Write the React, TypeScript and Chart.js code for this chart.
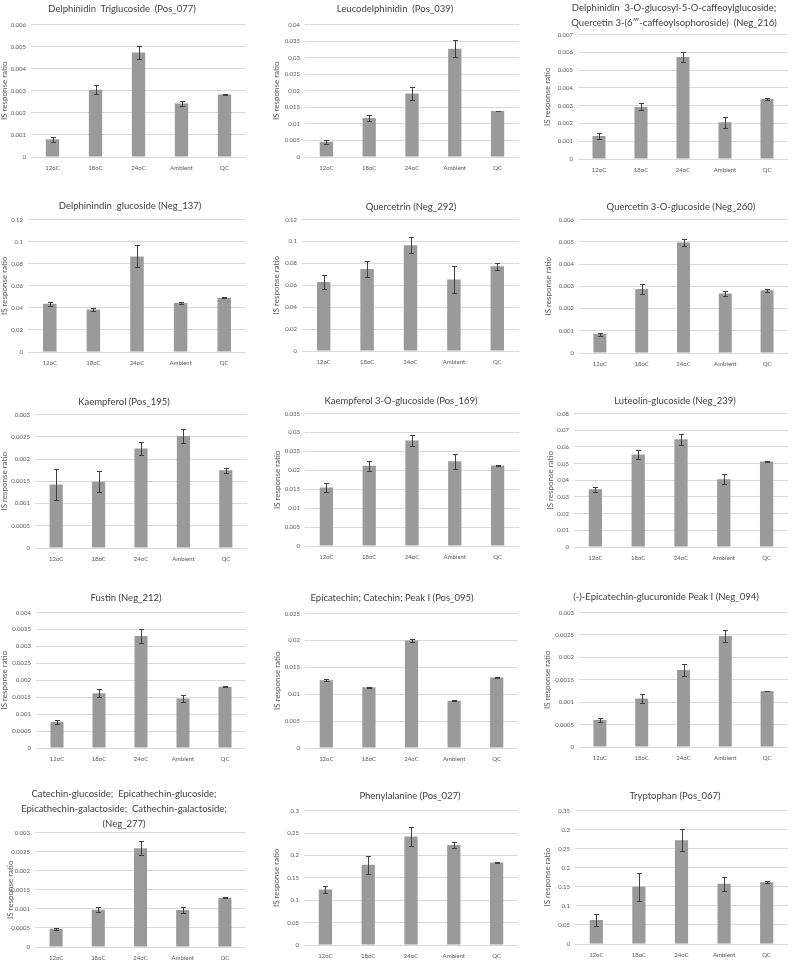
import React, { useEffect, useRef } from 'react';
import { Chart, registerables } from 'chart.js';

Chart.register(...registerables);

// ---------- data ----------
const categories = ['12oC', '18oC', '24oC', 'Ambient', 'QC'];

const titles: string[][] = [
  ['Delphinidin  Triglucoside  (Pos_077)'],
  ['Leucodelphinidin  (Pos_039)'],
  ['Delphinidin  3-O-glucosyl-5-O-caffeoylglucoside;', 'Quercetin 3-(6\u2034-caffeoylsophoroside)  (Neg_216)'],
  ['Delphinindin  glucoside (Neg_137)'],
  ['Quercetrin (Neg_292)'],
  ['Quercetin 3-O-glucoside (Neg_260)'],
  ['Kaempferol (Pos_195)'],
  ['Kaempferol 3-O-glucoside (Pos_169)'],
  ['Luteolin-glucoside (Neg_239)'],
  ['Fustin (Neg_212)'],
  ['Epicatechin; Catechin; Peak I (Pos_095)'],
  ['(-)-Epicatechin-glucuronide Peak I (Neg_094)'],
  ['Catechin-glucoside;  Epicathechin-glucoside;', 'Epicathechin-galactoside;  Cathechin-galactoside;', '(Neg_277)'],
  ['Phenylalanine (Pos_027)'],
  ['Tryptophan (Pos_067)'],
];

const yAxisTitle = 'IS response ratio';

const yMax = [0.006, 0.04, 0.007, 0.12, 0.12, 0.006, 0.003, 0.035, 0.08, 0.004, 0.025, 0.003, 0.003, 0.3, 0.35];
const yStep = [0.001, 0.005, 0.001, 0.02, 0.02, 0.001, 0.0005, 0.005, 0.01, 0.0005, 0.005, 0.0005, 0.0005, 0.05, 0.05];

const means01 = [0.00081, 0.00305, 0.00473, 0.00242, 0.00283];
const errs01 = [0.00011, 0.0002, 0.0003, 0.00013, 0.00002];
const means02 = [0.0046, 0.0118, 0.0192, 0.0327, 0.0139];
const errs02 = [0.0006, 0.0008, 0.002, 0.0026, 0.0001];
const means03 = [0.00129, 0.00293, 0.00574, 0.00207, 0.00338];
const errs03 = [0.00015, 0.0002, 0.0003, 0.0003, 0.00004];
const means04 = [0.0438, 0.0386, 0.0866, 0.0444, 0.0492];
const errs04 = [0.0017, 0.001, 0.01, 0.0007, 0.0006];
const means05 = [0.063, 0.0748, 0.0965, 0.0652, 0.0773];
const errs05 = [0.006, 0.007, 0.0073, 0.012, 0.0035];
const means06 = [0.00085, 0.00288, 0.00497, 0.00268, 0.00282];
const errs06 = [0.00007, 0.00023, 0.00016, 0.00012, 0.00007];
const means07 = [0.00143, 0.00149, 0.00224, 0.00252, 0.00175];
const errs07 = [0.00034, 0.00024, 0.00015, 0.00016, 0.00006];
const means08 = [0.01545, 0.0212, 0.0279, 0.0224, 0.0213];
const errs08 = [0.0012, 0.0013, 0.00135, 0.002, 0.0002];
const means09 = [0.0346, 0.0555, 0.0646, 0.0407, 0.0512];
const errs09 = [0.0015, 0.0028, 0.0032, 0.003, 0.0003];
const means10 = [0.00077, 0.00162, 0.00331, 0.00146, 0.00181];
const errs10 = [0.00005, 0.00011, 0.0002, 0.00011, 0.00002];
const means11 = [0.0126, 0.0113, 0.0200, 0.0088, 0.0131];
const errs11 = [0.0002, 0.0001, 0.0003, 0.0001, 0.00005];
const means12 = [0.0006, 0.00108, 0.00172, 0.00248, 0.00125];
const errs12 = [0.00005, 0.0001, 0.00014, 0.00014, 0.00001];
const means13 = [0.00048, 0.00098, 0.00259, 0.00097, 0.00129];
const errs13 = [0.00003, 0.000065, 0.00019, 0.000087, 0.00001];
const means14 = [0.124, 0.179, 0.242, 0.223, 0.184];
const errs14 = [0.008, 0.02, 0.021, 0.006, 0.002];
const means15 = [0.063, 0.15, 0.272, 0.158, 0.162];
const errs15 = [0.015, 0.037, 0.029, 0.018, 0.002];

const means = [means01, means02, means03, means04, means05, means06, means07, means08, means09, means10, means11, means12, means13, means14, means15];
const errs = [errs01, errs02, errs03, errs04, errs05, errs06, errs07, errs08, errs09, errs10, errs11, errs12, errs13, errs14, errs15];

// ---------- layout (px): canvasLeft, plotLeft, plotRight, plotTop, plotBottom, titleCenterX, titleFirstLineY ----------
const layout: number[][] = [
  [0, 31, 246, 24, 157, 122, 8],
  [272, 305, 519, 24, 157, 395, 8],
  [543, 578, 788, 34, 159, 674, 7],
  [0, 28, 246, 219, 352, 130, 205],
  [272, 302, 519, 219, 351, 411, 206],
  [544, 579, 788, 219, 353, 681, 206],
  [0, 35, 247, 414, 548, 124, 401],
  [273, 305, 519, 413, 546, 401, 400],
  [546, 574, 788, 413, 547, 675, 400],
  [0, 36, 246, 612, 748, 126, 597],
  [273, 305, 518, 613, 748, 392, 597],
  [543, 579, 788, 612, 747, 666, 596],
  [6, 35, 246, 832, 947, 124, 793],
  [272, 304, 518, 810, 945, 410, 795],
  [543, 575, 788, 810, 944, 675, 795],
];

const TOP_PAD = 8;
const X_AXIS_H = 20;
const FONT = 'Lato, "Open Sans", sans-serif';
const TEXT_COLOR = '#595959';
const TITLE_COLOR = '#404040';
const GRID_COLOR = '#d9d9d9';
const BAR_COLOR = '#9a9a9a';
const ERR_COLOR = '#404040';

const errorBarPlugin = {
  id: 'errorBars',
  afterDatasetsDraw(chart: any) {
    const ds = chart.data.datasets[0];
    const meta = chart.getDatasetMeta(0);
    const y = chart.scales.y;
    const ctx = chart.ctx;
    ctx.save();
    ctx.strokeStyle = ERR_COLOR;
    ctx.lineWidth = 1;
    meta.data.forEach((bar: any, i: number) => {
      const v = ds.data[i];
      const e = ds.errors[i];
      const x = Math.round(bar.x) + 0.5;
      const yT = Math.round(y.getPixelForValue(v + e)) + 0.5;
      const yB = Math.round(y.getPixelForValue(v - e)) + 0.5;
      ctx.beginPath();
      ctx.moveTo(x, yT);
      ctx.lineTo(x, yB);
      ctx.moveTo(x - 2.5, yT);
      ctx.lineTo(x + 2.5, yT);
      ctx.moveTo(x - 2.5, yB);
      ctx.lineTo(x + 2.5, yB);
      ctx.stroke();
    });
    ctx.restore();
  },
};

function Panel({ idx }: { idx: number }) {
  const ref = useRef<HTMLCanvasElement>(null);
  const [cl, pl, pr, pt, pb] = layout[idx];
  const w = pr - cl;
  const h = pb - pt + TOP_PAD + X_AXIS_H;

  useEffect(() => {
    const chart = new Chart(ref.current as HTMLCanvasElement, {
      type: 'bar',
      data: {
        labels: categories,
        datasets: [
          {
            data: means[idx],
            errors: errs[idx],
            backgroundColor: BAR_COLOR,
            borderWidth: 0,
            barPercentage: 1,
            categoryPercentage: 0.31,
          } as any,
        ],
      },
      options: {
        animation: false,
        responsive: false,
        maintainAspectRatio: false,
        devicePixelRatio: 1,
        layout: { padding: { top: TOP_PAD, left: 0, right: 0, bottom: 0 } },
        plugins: {
          legend: { display: false },
          tooltip: { enabled: false },
          title: { display: false },
        },
        scales: {
          x: {
            grid: { display: false, drawTicks: false },
            border: { display: false },
            ticks: {
              padding: 7,
              maxRotation: 0,
              autoSkip: false,
              color: TEXT_COLOR,
              font: { family: FONT, size: 6 },
            },
            afterFit: (s: any) => {
              s.height = X_AXIS_H;
            },
          },
          y: {
            min: 0,
            max: yMax[idx],
            border: { display: false },
            grid: { color: GRID_COLOR, drawTicks: false, lineWidth: 1 },
            ticks: {
              stepSize: yStep[idx],
              padding: 5,
              color: TEXT_COLOR,
              font: { family: FONT, size: 6 },
              callback: (v: any) => String(Number(Number(v).toPrecision(6))),
            },
            title: {
              display: true,
              text: yAxisTitle,
              color: TEXT_COLOR,
              padding: 0,
              font: { family: FONT, size: 8 },
            },
            afterFit: (s: any) => {
              s.width = pl - cl;
            },
          },
        },
      } as any,
      plugins: [errorBarPlugin],
    });
    return () => chart.destroy();
  }, [idx]);

  return (
    <canvas
      ref={ref}
      width={w}
      height={h}
      style={{ position: 'absolute', left: cl, top: pt - TOP_PAD, width: w, height: h }}
    />
  );
}

function PanelTitle({ idx }: { idx: number }) {
  const tx = layout[idx][5];
  const ty = layout[idx][6];
  return (
    <>
      {titles[idx].map((line, li) => (
        <div
          key={li}
          style={{
            position: 'absolute',
            left: tx - 200,
            width: 400,
            top: ty - 7.5 + li * 15,
            height: 15,
            lineHeight: '15px',
            textAlign: 'center',
            whiteSpace: 'pre',
            fontFamily: FONT,
            fontWeight: 400,
            fontSize: '9.5px',
            color: TITLE_COLOR,
            willChange: 'transform',
          }}
        >
          {line}
        </div>
      ))}
    </>
  );
}

export default function App() {
  return (
    <div
      style={{
        position: 'absolute',
        left: 0,
        top: 0,
        width: 793,
        height: 960,
        overflow: 'hidden',
        background: '#ffffff',
      }}
    >
      {layout.map((_, i) => (
        <React.Fragment key={i}>
          <Panel idx={i} />
          <PanelTitle idx={i} />
        </React.Fragment>
      ))}
    </div>
  );
}
